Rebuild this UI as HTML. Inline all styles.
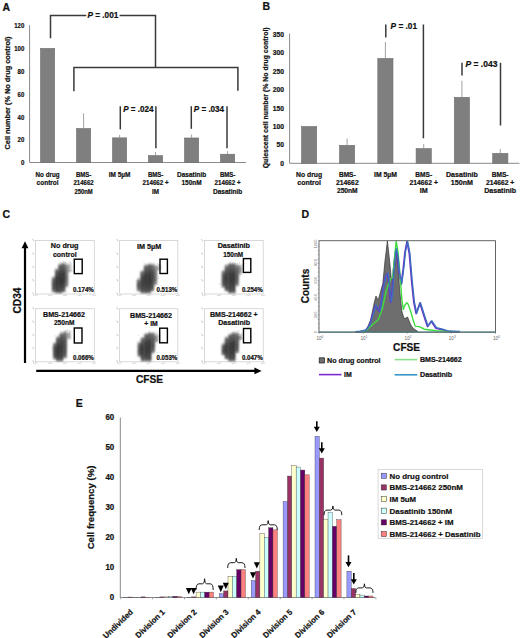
<!DOCTYPE html>
<html><head><meta charset="utf-8"><style>
html,body{margin:0;padding:0;background:#fff;}
svg{display:block;}
text{font-family:"Liberation Sans",sans-serif;}
text[font-weight="bold"]{stroke:#111;stroke-width:0.22px;}
</style></head><body>
<svg width="520" height="638" viewBox="0 0 520 638">
<rect width="520" height="638" fill="#fff"/>
<text x="2.60" y="10.60" font-size="10.5" font-weight="bold" text-anchor="start" fill="#111">A</text>
<text x="262.60" y="10.30" font-size="10.5" font-weight="bold" text-anchor="start" fill="#111">B</text>
<text x="2.40" y="217.60" font-size="10.5" font-weight="bold" text-anchor="start" fill="#111">C</text>
<text x="301.40" y="218.00" font-size="10.5" font-weight="bold" text-anchor="start" fill="#111">D</text>
<text x="75.80" y="406.70" font-size="10.5" font-weight="bold" text-anchor="start" fill="#111">E</text>
<line x1="29.60" y1="25.20" x2="29.60" y2="162.50" stroke="#8a8a8a" stroke-width="1"/>
<line x1="29.60" y1="162.50" x2="246.00" y2="162.50" stroke="#8a8a8a" stroke-width="1"/>
<text x="24.30" y="165.30" font-size="7.2" font-weight="bold" text-anchor="end" fill="#111" textLength="3.4" lengthAdjust="spacingAndGlyphs">0</text>
<text x="24.30" y="142.42" font-size="7.2" font-weight="bold" text-anchor="end" fill="#111" textLength="6.7" lengthAdjust="spacingAndGlyphs">20</text>
<text x="24.30" y="119.54" font-size="7.2" font-weight="bold" text-anchor="end" fill="#111" textLength="6.7" lengthAdjust="spacingAndGlyphs">40</text>
<text x="24.30" y="96.66" font-size="7.2" font-weight="bold" text-anchor="end" fill="#111" textLength="6.7" lengthAdjust="spacingAndGlyphs">60</text>
<text x="24.30" y="73.78" font-size="7.2" font-weight="bold" text-anchor="end" fill="#111" textLength="6.7" lengthAdjust="spacingAndGlyphs">80</text>
<text x="24.30" y="50.90" font-size="7.2" font-weight="bold" text-anchor="end" fill="#111" textLength="10.1" lengthAdjust="spacingAndGlyphs">100</text>
<text x="24.30" y="28.02" font-size="7.2" font-weight="bold" text-anchor="end" fill="#111" textLength="10.1" lengthAdjust="spacingAndGlyphs">120</text>
<text transform="translate(10.3,93.0) rotate(-90)" x="0" y="0" font-size="7.3" font-weight="bold" text-anchor="middle" fill="#111" textLength="113" lengthAdjust="spacingAndGlyphs">Cell number (% No drug control)</text>
<rect x="40.50" y="48.40" width="14.20" height="114.10" fill="#7f7f7f" stroke="#6e6e6e" stroke-width="0.6"/>
<line x1="83.60" y1="113.31" x2="83.60" y2="128.18" stroke="#7a7a7a" stroke-width="0.7"/>
<rect x="76.50" y="128.48" width="14.20" height="34.02" fill="#7f7f7f" stroke="#6e6e6e" stroke-width="0.6"/>
<line x1="119.60" y1="135.04" x2="119.60" y2="137.56" stroke="#7a7a7a" stroke-width="0.7"/>
<rect x="112.50" y="137.86" width="14.20" height="24.64" fill="#7f7f7f" stroke="#6e6e6e" stroke-width="0.6"/>
<line x1="155.50" y1="152.20" x2="155.50" y2="155.29" stroke="#7a7a7a" stroke-width="0.7"/>
<rect x="148.40" y="155.59" width="14.20" height="6.91" fill="#7f7f7f" stroke="#6e6e6e" stroke-width="0.6"/>
<line x1="191.60" y1="134.47" x2="191.60" y2="137.68" stroke="#7a7a7a" stroke-width="0.7"/>
<rect x="184.50" y="137.98" width="14.20" height="24.52" fill="#7f7f7f" stroke="#6e6e6e" stroke-width="0.6"/>
<line x1="227.60" y1="151.06" x2="227.60" y2="153.92" stroke="#7a7a7a" stroke-width="0.7"/>
<rect x="220.50" y="154.22" width="14.20" height="8.28" fill="#7f7f7f" stroke="#6e6e6e" stroke-width="0.6"/>
<text x="47.60" y="176.78" font-size="7.2" font-weight="bold" text-anchor="middle" fill="#111" textLength="24.0" lengthAdjust="spacingAndGlyphs">No drug</text>
<text x="47.60" y="185.38" font-size="7.2" font-weight="bold" text-anchor="middle" fill="#111" textLength="22.0" lengthAdjust="spacingAndGlyphs">control</text>
<text x="83.60" y="176.78" font-size="7.2" font-weight="bold" text-anchor="middle" fill="#111" textLength="15.4" lengthAdjust="spacingAndGlyphs">BMS-</text>
<text x="83.60" y="185.38" font-size="7.2" font-weight="bold" text-anchor="middle" fill="#111" textLength="20.3" lengthAdjust="spacingAndGlyphs">214662</text>
<text x="83.60" y="193.98" font-size="7.2" font-weight="bold" text-anchor="middle" fill="#111" textLength="18.2" lengthAdjust="spacingAndGlyphs">250nM</text>
<text x="119.60" y="176.78" font-size="7.2" font-weight="bold" text-anchor="middle" fill="#111" textLength="21.6" lengthAdjust="spacingAndGlyphs">IM 5µM</text>
<text x="155.60" y="176.78" font-size="7.2" font-weight="bold" text-anchor="middle" fill="#111" textLength="15.4" lengthAdjust="spacingAndGlyphs">BMS-</text>
<text x="155.60" y="185.38" font-size="7.2" font-weight="bold" text-anchor="middle" fill="#111" textLength="26.0" lengthAdjust="spacingAndGlyphs">214662 +</text>
<text x="155.60" y="193.98" font-size="7.2" font-weight="bold" text-anchor="middle" fill="#111" textLength="7.0" lengthAdjust="spacingAndGlyphs">IM</text>
<text x="191.60" y="176.78" font-size="7.2" font-weight="bold" text-anchor="middle" fill="#111" textLength="29.3" lengthAdjust="spacingAndGlyphs">Dasatinib</text>
<text x="191.60" y="185.38" font-size="7.2" font-weight="bold" text-anchor="middle" fill="#111" textLength="20.2" lengthAdjust="spacingAndGlyphs">150nM</text>
<text x="227.60" y="176.78" font-size="7.2" font-weight="bold" text-anchor="middle" fill="#111" textLength="15.4" lengthAdjust="spacingAndGlyphs">BMS-</text>
<text x="227.60" y="185.38" font-size="7.2" font-weight="bold" text-anchor="middle" fill="#111" textLength="26.0" lengthAdjust="spacingAndGlyphs">214662 +</text>
<text x="227.60" y="193.98" font-size="7.2" font-weight="bold" text-anchor="middle" fill="#111" textLength="29.3" lengthAdjust="spacingAndGlyphs">Dasatinib</text>
<polyline points="50.50,38.20 50.50,15.40 86.30,15.40" fill="none" stroke="#3a3a3a" stroke-width="1.5"/>
<polyline points="119.60,15.40 155.50,15.40 155.50,67.60" fill="none" stroke="#3a3a3a" stroke-width="1.5"/>
<polyline points="73.90,91.20 73.90,67.60 237.90,67.60 237.90,90.80" fill="none" stroke="#3a3a3a" stroke-width="1.5"/>
<text x="87.40" y="18.20" font-size="8.4" font-weight="bold" fill="#111" textLength="31.0" lengthAdjust="spacingAndGlyphs"><tspan font-style="italic">P</tspan> = .001</text>
<line x1="120.30" y1="106.20" x2="120.30" y2="129.40" stroke="#3a3a3a" stroke-width="1.5"/>
<line x1="155.90" y1="106.20" x2="155.90" y2="148.20" stroke="#3a3a3a" stroke-width="1.5"/>
<text x="123.20" y="111.50" font-size="8.4" font-weight="bold" fill="#111" textLength="30.3" lengthAdjust="spacingAndGlyphs"><tspan font-style="italic">P</tspan> = .024</text>
<line x1="191.30" y1="106.20" x2="191.30" y2="128.80" stroke="#3a3a3a" stroke-width="1.5"/>
<line x1="227.00" y1="106.20" x2="227.00" y2="148.20" stroke="#3a3a3a" stroke-width="1.5"/>
<text x="193.80" y="111.50" font-size="8.4" font-weight="bold" fill="#111" textLength="30.3" lengthAdjust="spacingAndGlyphs"><tspan font-style="italic">P</tspan> = .034</text>
<line x1="289.60" y1="33.60" x2="289.60" y2="163.30" stroke="#8a8a8a" stroke-width="1"/>
<line x1="289.60" y1="163.30" x2="519.50" y2="163.30" stroke="#8a8a8a" stroke-width="1"/>
<text x="284.00" y="165.90" font-size="7.3" font-weight="bold" text-anchor="end" fill="#111" textLength="3.7" lengthAdjust="spacingAndGlyphs">0</text>
<text x="284.00" y="147.46" font-size="7.3" font-weight="bold" text-anchor="end" fill="#111" textLength="7.4" lengthAdjust="spacingAndGlyphs">50</text>
<text x="284.00" y="129.01" font-size="7.3" font-weight="bold" text-anchor="end" fill="#111" textLength="11.2" lengthAdjust="spacingAndGlyphs">100</text>
<text x="284.00" y="110.57" font-size="7.3" font-weight="bold" text-anchor="end" fill="#111" textLength="11.2" lengthAdjust="spacingAndGlyphs">150</text>
<text x="284.00" y="92.13" font-size="7.3" font-weight="bold" text-anchor="end" fill="#111" textLength="11.2" lengthAdjust="spacingAndGlyphs">200</text>
<text x="284.00" y="73.69" font-size="7.3" font-weight="bold" text-anchor="end" fill="#111" textLength="11.2" lengthAdjust="spacingAndGlyphs">250</text>
<text x="284.00" y="55.24" font-size="7.3" font-weight="bold" text-anchor="end" fill="#111" textLength="11.2" lengthAdjust="spacingAndGlyphs">300</text>
<text x="284.00" y="36.80" font-size="7.3" font-weight="bold" text-anchor="end" fill="#111" textLength="11.2" lengthAdjust="spacingAndGlyphs">350</text>
<text transform="translate(268.2,97.85) rotate(-90)" x="0" y="0" font-size="6.9" font-weight="bold" text-anchor="middle" fill="#111" textLength="141" lengthAdjust="spacingAndGlyphs">Quiescent cell number (% No drug control)</text>
<rect x="301.50" y="126.50" width="15.20" height="36.80" fill="#7f7f7f" stroke="#6e6e6e" stroke-width="0.6"/>
<line x1="347.10" y1="138.50" x2="347.10" y2="145.00" stroke="#7a7a7a" stroke-width="0.7"/>
<rect x="339.50" y="145.30" width="15.20" height="18.00" fill="#7f7f7f" stroke="#6e6e6e" stroke-width="0.6"/>
<line x1="385.40" y1="42.00" x2="385.40" y2="58.10" stroke="#7a7a7a" stroke-width="0.7"/>
<rect x="377.80" y="58.40" width="15.20" height="104.90" fill="#7f7f7f" stroke="#6e6e6e" stroke-width="0.6"/>
<line x1="423.70" y1="144.00" x2="423.70" y2="148.30" stroke="#7a7a7a" stroke-width="0.7"/>
<rect x="416.10" y="148.60" width="15.20" height="14.70" fill="#7f7f7f" stroke="#6e6e6e" stroke-width="0.6"/>
<line x1="461.90" y1="80.70" x2="461.90" y2="97.00" stroke="#7a7a7a" stroke-width="0.7"/>
<rect x="454.30" y="97.30" width="15.20" height="66.00" fill="#7f7f7f" stroke="#6e6e6e" stroke-width="0.6"/>
<line x1="500.30" y1="149.00" x2="500.30" y2="153.00" stroke="#7a7a7a" stroke-width="0.7"/>
<rect x="492.70" y="153.30" width="15.20" height="10.00" fill="#7f7f7f" stroke="#6e6e6e" stroke-width="0.6"/>
<text x="309.10" y="176.78" font-size="7.2" font-weight="bold" text-anchor="middle" fill="#111" textLength="26.0" lengthAdjust="spacingAndGlyphs">No drug</text>
<text x="309.10" y="185.08" font-size="7.2" font-weight="bold" text-anchor="middle" fill="#111" textLength="23.7" lengthAdjust="spacingAndGlyphs">control</text>
<text x="347.30" y="176.78" font-size="7.2" font-weight="bold" text-anchor="middle" fill="#111" textLength="16.8" lengthAdjust="spacingAndGlyphs">BMS-</text>
<text x="347.30" y="185.08" font-size="7.2" font-weight="bold" text-anchor="middle" fill="#111" textLength="22.8" lengthAdjust="spacingAndGlyphs">214662</text>
<text x="347.30" y="193.38" font-size="7.2" font-weight="bold" text-anchor="middle" fill="#111" textLength="20.7" lengthAdjust="spacingAndGlyphs">250nM</text>
<text x="385.50" y="176.78" font-size="7.2" font-weight="bold" text-anchor="middle" fill="#111" textLength="23.0" lengthAdjust="spacingAndGlyphs">IM 5µM</text>
<text x="423.70" y="176.78" font-size="7.2" font-weight="bold" text-anchor="middle" fill="#111" textLength="16.8" lengthAdjust="spacingAndGlyphs">BMS-</text>
<text x="423.70" y="185.08" font-size="7.2" font-weight="bold" text-anchor="middle" fill="#111" textLength="28.4" lengthAdjust="spacingAndGlyphs">214662 +</text>
<text x="423.70" y="193.38" font-size="7.2" font-weight="bold" text-anchor="middle" fill="#111" textLength="8.0" lengthAdjust="spacingAndGlyphs">IM</text>
<text x="461.90" y="176.78" font-size="7.2" font-weight="bold" text-anchor="middle" fill="#111" textLength="31.8" lengthAdjust="spacingAndGlyphs">Dasatinib</text>
<text x="461.90" y="185.08" font-size="7.2" font-weight="bold" text-anchor="middle" fill="#111" textLength="22.1" lengthAdjust="spacingAndGlyphs">150nM</text>
<text x="500.10" y="176.78" font-size="7.2" font-weight="bold" text-anchor="middle" fill="#111" textLength="16.8" lengthAdjust="spacingAndGlyphs">BMS-</text>
<text x="500.10" y="185.08" font-size="7.2" font-weight="bold" text-anchor="middle" fill="#111" textLength="28.4" lengthAdjust="spacingAndGlyphs">214662 +</text>
<text x="500.10" y="193.38" font-size="7.2" font-weight="bold" text-anchor="middle" fill="#111" textLength="31.8" lengthAdjust="spacingAndGlyphs">Dasatinib</text>
<line x1="385.80" y1="24.50" x2="385.80" y2="37.60" stroke="#3a3a3a" stroke-width="1.5"/>
<line x1="423.40" y1="24.50" x2="423.40" y2="138.30" stroke="#3a3a3a" stroke-width="1.5"/>
<text x="390.60" y="29.30" font-size="8.4" font-weight="bold" fill="#111" textLength="26.5" lengthAdjust="spacingAndGlyphs"><tspan font-style="italic">P</tspan> = .01</text>
<line x1="462.00" y1="62.80" x2="462.00" y2="75.60" stroke="#3a3a3a" stroke-width="1.5"/>
<line x1="500.50" y1="62.80" x2="500.50" y2="125.50" stroke="#3a3a3a" stroke-width="1.5"/>
<text x="465.50" y="67.00" font-size="8.4" font-weight="bold" fill="#111" textLength="31.9" lengthAdjust="spacingAndGlyphs"><tspan font-style="italic">P</tspan> = .043</text>
<line x1="25.00" y1="247.00" x2="25.00" y2="363.00" stroke="#000" stroke-width="2.2"/>
<polygon points="25,241.2 21.6,248.2 28.4,248.2" fill="#000"/>
<line x1="36.20" y1="370.90" x2="255.50" y2="370.90" stroke="#000" stroke-width="2.2"/>
<polygon points="261.6,370.9 254.4,367.5 254.4,374.3" fill="#000"/>
<text transform="translate(21.3,300.5) rotate(-90)" font-size="10" font-weight="bold" text-anchor="middle" fill="#111" textLength="26" lengthAdjust="spacingAndGlyphs">CD34</text>
<text x="149.50" y="383.08" font-size="10" font-weight="bold" text-anchor="middle" fill="#111" textLength="27.2" lengthAdjust="spacingAndGlyphs">CFSE</text>
<defs><filter id="bl" x="-50%" y="-50%" width="200%" height="200%"><feGaussianBlur stdDeviation="1.1"/></filter><filter id="bl2" x="-50%" y="-50%" width="200%" height="200%"><feGaussianBlur stdDeviation="0.85"/></filter><linearGradient id="sg" x1="0" y1="0" x2="0" y2="1"><stop offset="0" stop-color="#3a3a3a" stop-opacity="0.55"/><stop offset="0.35" stop-color="#222" stop-opacity="0.9"/><stop offset="1" stop-color="#1a1a1a" stop-opacity="1"/></linearGradient></defs>
<rect x="35.50" y="240.50" width="58.80" height="53.50" fill="none" stroke="#cfcfcf" stroke-width="0.8"/>
<path d="M32.3 239.3l1.6 1.2l-0.6 0.8" stroke="#aaa" stroke-width="0.7" fill="none"/>
<path d="M32.3 252.7l1.6 1.2l-0.6 0.8" stroke="#aaa" stroke-width="0.7" fill="none"/>
<path d="M32.3 266.1l1.6 1.2l-0.6 0.8" stroke="#aaa" stroke-width="0.7" fill="none"/>
<path d="M32.3 279.4l1.6 1.2l-0.6 0.8" stroke="#aaa" stroke-width="0.7" fill="none"/>
<path d="M32.3 292.8l1.6 1.2l-0.6 0.8" stroke="#aaa" stroke-width="0.7" fill="none"/>
<path d="M33.5 295.2q1 1.2 2 0.2q1 -1 2 0" stroke="#bbb" stroke-width="0.7" fill="none"/>
<path d="M48.2 295.2q1 1.2 2 0.2q1 -1 2 0" stroke="#bbb" stroke-width="0.7" fill="none"/>
<path d="M62.9 295.2q1 1.2 2 0.2q1 -1 2 0" stroke="#bbb" stroke-width="0.7" fill="none"/>
<path d="M77.6 295.2q1 1.2 2 0.2q1 -1 2 0" stroke="#bbb" stroke-width="0.7" fill="none"/>
<path d="M92.3 295.2q1 1.2 2 0.2q1 -1 2 0" stroke="#bbb" stroke-width="0.7" fill="none"/>
<g filter="url(#bl)"><rect x="51.9" y="277.5" width="3.6" height="14.5" fill="#484848" opacity="0.60"/><rect x="55.1" y="269.5" width="3.6" height="23.5" fill="#484848" opacity="0.76"/><rect x="58.4" y="264.5" width="3.6" height="28.5" fill="#484848" opacity="0.76"/><rect x="61.6" y="263.5" width="3.6" height="28.5" fill="#484848" opacity="0.72"/><rect x="64.6" y="264.5" width="3.6" height="22.5" fill="#484848" opacity="0.44"/><rect x="67.6" y="264.5" width="3.6" height="7.5" fill="#484848" opacity="0.20"/></g><g filter="url(#bl2)"><ellipse cx="53.8" cy="284.0" rx="1.3" ry="8.0" fill="url(#sg)" opacity="0.75"/><ellipse cx="57.0" cy="280.5" rx="1.3" ry="12.5" fill="url(#sg)" opacity="0.95"/><ellipse cx="60.3" cy="278.0" rx="1.3" ry="15.0" fill="url(#sg)" opacity="0.95"/><ellipse cx="63.5" cy="277.0" rx="1.3" ry="15.0" fill="url(#sg)" opacity="0.90"/><ellipse cx="66.5" cy="275.0" rx="1.3" ry="12.0" fill="url(#sg)" opacity="0.55"/><ellipse cx="69.5" cy="267.5" rx="1.3" ry="4.5" fill="url(#sg)" opacity="0.25"/></g>
<path d="M62.4 262.5h.7v.7h-.7zM65.8 263.4h.7v.7h-.7zM68.9 262.0h.7v.7h-.7zM64.4 273.4h.7v.7h-.7zM58.9 288.3h.7v.7h-.7zM55.0 291.1h.7v.7h-.7zM65.8 267.3h.7v.7h-.7zM59.7 261.6h.7v.7h-.7zM61.2 273.8h.7v.7h-.7zM58.3 280.6h.7v.7h-.7zM65.0 265.7h.7v.7h-.7zM70.3 275.9h.7v.7h-.7zM55.1 267.7h.7v.7h-.7zM55.8 285.1h.7v.7h-.7zM62.5 270.1h.7v.7h-.7zM64.4 285.0h.7v.7h-.7zM59.1 283.4h.7v.7h-.7zM60.7 268.2h.7v.7h-.7zM55.9 284.3h.7v.7h-.7zM59.6 280.5h.7v.7h-.7zM55.5 287.6h.7v.7h-.7zM58.5 291.2h.7v.7h-.7zM66.7 284.5h.7v.7h-.7zM67.3 281.5h.7v.7h-.7zM59.2 276.9h.7v.7h-.7zM65.2 262.2h.7v.7h-.7zM56.1 286.0h.7v.7h-.7zM53.0 287.2h.7v.7h-.7zM56.1 287.3h.7v.7h-.7zM54.8 283.9h.7v.7h-.7zM66.5 264.9h.7v.7h-.7zM70.8 264.0h.7v.7h-.7zM54.2 287.3h.7v.7h-.7zM65.3 272.5h.7v.7h-.7zM65.6 277.6h.7v.7h-.7zM58.2 288.1h.7v.7h-.7zM66.1 270.3h.7v.7h-.7zM65.7 290.6h.7v.7h-.7zM58.1 283.8h.7v.7h-.7zM54.4 282.7h.7v.7h-.7zM67.2 264.8h.7v.7h-.7zM68.1 270.6h.7v.7h-.7zM66.0 283.3h.7v.7h-.7zM67.5 278.0h.7v.7h-.7zM73.9 269.6h.7v.7h-.7zM71.1 269.8h.7v.7h-.7zM61.7 275.4h.7v.7h-.7zM64.8 262.0h.7v.7h-.7zM56.2 276.0h.7v.7h-.7zM66.3 262.4h.7v.7h-.7zM51.3 291.1h.7v.7h-.7zM65.4 261.7h.7v.7h-.7zM56.1 272.8h.7v.7h-.7zM59.5 280.3h.7v.7h-.7zM66.6 291.8h.7v.7h-.7zM66.5 275.4h.7v.7h-.7zM61.2 272.0h.7v.7h-.7zM60.8 276.3h.7v.7h-.7zM69.8 271.5h.7v.7h-.7zM66.9 270.4h.7v.7h-.7zM69.0 266.8h.7v.7h-.7zM69.4 270.5h.7v.7h-.7zM71.0 271.0h.7v.7h-.7zM58.1 285.7h.7v.7h-.7zM64.0 277.5h.7v.7h-.7zM65.8 282.1h.7v.7h-.7zM58.4 286.0h.7v.7h-.7zM53.2 271.4h.7v.7h-.7zM63.2 260.9h.7v.7h-.7zM60.7 276.1h.7v.7h-.7zM55.1 278.1h.7v.7h-.7zM64.3 271.9h.7v.7h-.7zM61.2 276.0h.7v.7h-.7zM60.8 267.5h.7v.7h-.7zM69.5 261.0h.7v.7h-.7zM69.2 264.8h.7v.7h-.7zM72.3 271.0h.7v.7h-.7zM71.1 269.3h.7v.7h-.7zM65.3 280.3h.7v.7h-.7zM52.3 288.4h.7v.7h-.7zM67.7 271.4h.7v.7h-.7zM70.9 262.7h.7v.7h-.7zM59.9 278.6h.7v.7h-.7zM70.0 262.6h.7v.7h-.7zM69.7 270.1h.7v.7h-.7zM66.1 275.3h.7v.7h-.7zM59.6 285.7h.7v.7h-.7zM67.0 280.5h.7v.7h-.7zM52.9 288.3h.7v.7h-.7zM58.8 266.8h.7v.7h-.7z" fill="#555" opacity="0.3"/>
<rect x="74.30" y="259.20" width="7.90" height="14.40" fill="none" stroke="#000" stroke-width="1.4"/>
<text x="64.65" y="248.41" font-size="7.3" font-weight="bold" text-anchor="middle" fill="#111" textLength="27.7" lengthAdjust="spacingAndGlyphs">No drug</text>
<text x="64.80" y="256.91" font-size="7.3" font-weight="bold" text-anchor="middle" fill="#111" textLength="23.6" lengthAdjust="spacingAndGlyphs">control</text>
<text x="93.80" y="292.40" font-size="6.6" font-weight="bold" text-anchor="end" fill="#111" textLength="20.8" lengthAdjust="spacingAndGlyphs">0.174%</text>
<rect x="119.60" y="240.50" width="58.20" height="53.50" fill="none" stroke="#cfcfcf" stroke-width="0.8"/>
<path d="M116.4 239.3l1.6 1.2l-0.6 0.8" stroke="#aaa" stroke-width="0.7" fill="none"/>
<path d="M116.4 252.7l1.6 1.2l-0.6 0.8" stroke="#aaa" stroke-width="0.7" fill="none"/>
<path d="M116.4 266.1l1.6 1.2l-0.6 0.8" stroke="#aaa" stroke-width="0.7" fill="none"/>
<path d="M116.4 279.4l1.6 1.2l-0.6 0.8" stroke="#aaa" stroke-width="0.7" fill="none"/>
<path d="M116.4 292.8l1.6 1.2l-0.6 0.8" stroke="#aaa" stroke-width="0.7" fill="none"/>
<path d="M117.6 295.2q1 1.2 2 0.2q1 -1 2 0" stroke="#bbb" stroke-width="0.7" fill="none"/>
<path d="M132.2 295.2q1 1.2 2 0.2q1 -1 2 0" stroke="#bbb" stroke-width="0.7" fill="none"/>
<path d="M146.7 295.2q1 1.2 2 0.2q1 -1 2 0" stroke="#bbb" stroke-width="0.7" fill="none"/>
<path d="M161.2 295.2q1 1.2 2 0.2q1 -1 2 0" stroke="#bbb" stroke-width="0.7" fill="none"/>
<path d="M175.8 295.2q1 1.2 2 0.2q1 -1 2 0" stroke="#bbb" stroke-width="0.7" fill="none"/>
<g filter="url(#bl)"><rect x="136.9" y="279.5" width="3.6" height="11.5" fill="#484848" opacity="0.56"/><rect x="140.4" y="271.5" width="3.6" height="21.5" fill="#484848" opacity="0.72"/><rect x="143.9" y="265.5" width="3.6" height="27.5" fill="#484848" opacity="0.76"/><rect x="147.3" y="264.5" width="3.6" height="28.5" fill="#484848" opacity="0.76"/><rect x="150.4" y="264.5" width="3.6" height="26.5" fill="#484848" opacity="0.64"/><rect x="153.5" y="265.5" width="3.6" height="19.5" fill="#484848" opacity="0.44"/><rect x="156.6" y="266.5" width="3.6" height="3.5" fill="#484848" opacity="0.24"/></g><g filter="url(#bl2)"><ellipse cx="138.8" cy="284.5" rx="1.3" ry="6.5" fill="url(#sg)" opacity="0.70"/><ellipse cx="142.3" cy="281.5" rx="1.3" ry="11.5" fill="url(#sg)" opacity="0.90"/><ellipse cx="145.8" cy="278.5" rx="1.3" ry="14.5" fill="url(#sg)" opacity="0.95"/><ellipse cx="149.2" cy="278.0" rx="1.3" ry="15.0" fill="url(#sg)" opacity="0.95"/><ellipse cx="152.3" cy="277.0" rx="1.3" ry="14.0" fill="url(#sg)" opacity="0.80"/><ellipse cx="155.4" cy="274.5" rx="1.3" ry="10.5" fill="url(#sg)" opacity="0.55"/><ellipse cx="158.5" cy="267.5" rx="1.3" ry="2.5" fill="url(#sg)" opacity="0.30"/></g>
<path d="M141.9 282.7h.7v.7h-.7zM147.4 278.9h.7v.7h-.7zM161.8 265.5h.7v.7h-.7zM152.7 282.2h.7v.7h-.7zM160.4 269.4h.7v.7h-.7zM151.0 264.9h.7v.7h-.7zM141.9 279.0h.7v.7h-.7zM142.2 283.2h.7v.7h-.7zM158.9 266.3h.7v.7h-.7zM154.1 264.8h.7v.7h-.7zM137.6 284.3h.7v.7h-.7zM160.9 268.4h.7v.7h-.7zM153.6 262.3h.7v.7h-.7zM139.3 283.6h.7v.7h-.7zM156.9 262.9h.7v.7h-.7zM146.6 281.0h.7v.7h-.7zM151.1 269.3h.7v.7h-.7zM151.4 277.0h.7v.7h-.7zM147.5 277.7h.7v.7h-.7zM145.7 290.6h.7v.7h-.7zM142.9 271.0h.7v.7h-.7zM148.2 271.1h.7v.7h-.7zM155.5 277.4h.7v.7h-.7zM159.4 263.9h.7v.7h-.7zM160.5 267.6h.7v.7h-.7zM145.2 274.3h.7v.7h-.7zM143.8 291.8h.7v.7h-.7zM148.9 289.3h.7v.7h-.7zM146.5 272.0h.7v.7h-.7zM148.9 292.8h.7v.7h-.7zM148.4 271.2h.7v.7h-.7zM156.6 270.4h.7v.7h-.7zM143.6 262.6h.7v.7h-.7zM145.0 278.0h.7v.7h-.7zM145.0 292.5h.7v.7h-.7zM158.4 264.6h.7v.7h-.7zM140.3 289.6h.7v.7h-.7zM143.2 274.8h.7v.7h-.7zM144.1 284.9h.7v.7h-.7zM141.9 274.6h.7v.7h-.7zM154.8 282.0h.7v.7h-.7zM137.4 280.2h.7v.7h-.7zM157.6 263.5h.7v.7h-.7zM136.7 285.5h.7v.7h-.7zM158.3 264.6h.7v.7h-.7zM148.8 288.7h.7v.7h-.7zM156.3 274.4h.7v.7h-.7zM146.3 281.3h.7v.7h-.7zM137.2 277.6h.7v.7h-.7zM142.0 274.5h.7v.7h-.7zM142.9 275.6h.7v.7h-.7zM160.3 264.4h.7v.7h-.7zM147.8 272.1h.7v.7h-.7zM138.8 290.9h.7v.7h-.7zM142.4 284.3h.7v.7h-.7zM142.6 280.9h.7v.7h-.7zM143.3 288.5h.7v.7h-.7zM148.8 282.0h.7v.7h-.7zM153.4 276.2h.7v.7h-.7zM153.5 266.9h.7v.7h-.7zM140.0 285.7h.7v.7h-.7zM158.9 265.2h.7v.7h-.7zM150.0 262.4h.7v.7h-.7zM154.9 279.0h.7v.7h-.7zM145.1 282.6h.7v.7h-.7zM149.5 288.9h.7v.7h-.7zM158.3 277.9h.7v.7h-.7zM138.3 282.9h.7v.7h-.7zM142.3 277.1h.7v.7h-.7zM146.0 292.2h.7v.7h-.7zM152.0 287.5h.7v.7h-.7zM142.8 276.9h.7v.7h-.7zM138.3 280.2h.7v.7h-.7zM156.2 266.6h.7v.7h-.7zM152.5 285.5h.7v.7h-.7zM141.4 278.0h.7v.7h-.7zM137.3 285.4h.7v.7h-.7zM139.9 284.8h.7v.7h-.7zM153.1 287.8h.7v.7h-.7zM157.5 269.2h.7v.7h-.7zM149.5 276.8h.7v.7h-.7zM142.3 284.4h.7v.7h-.7zM157.9 278.4h.7v.7h-.7zM155.5 279.8h.7v.7h-.7zM154.6 282.9h.7v.7h-.7zM156.0 266.5h.7v.7h-.7zM158.7 267.8h.7v.7h-.7zM158.1 269.2h.7v.7h-.7zM158.4 264.0h.7v.7h-.7zM137.9 278.0h.7v.7h-.7z" fill="#555" opacity="0.3"/>
<rect x="160.00" y="259.20" width="7.40" height="14.30" fill="none" stroke="#000" stroke-width="1.4"/>
<text x="149.10" y="248.81" font-size="7.3" font-weight="bold" text-anchor="middle" fill="#111" textLength="24.2" lengthAdjust="spacingAndGlyphs">IM 5µM</text>
<text x="177.30" y="292.40" font-size="6.6" font-weight="bold" text-anchor="end" fill="#111" textLength="20.8" lengthAdjust="spacingAndGlyphs">0.513%</text>
<rect x="204.40" y="240.50" width="58.80" height="53.50" fill="none" stroke="#cfcfcf" stroke-width="0.8"/>
<path d="M201.2 239.3l1.6 1.2l-0.6 0.8" stroke="#aaa" stroke-width="0.7" fill="none"/>
<path d="M201.2 252.7l1.6 1.2l-0.6 0.8" stroke="#aaa" stroke-width="0.7" fill="none"/>
<path d="M201.2 266.1l1.6 1.2l-0.6 0.8" stroke="#aaa" stroke-width="0.7" fill="none"/>
<path d="M201.2 279.4l1.6 1.2l-0.6 0.8" stroke="#aaa" stroke-width="0.7" fill="none"/>
<path d="M201.2 292.8l1.6 1.2l-0.6 0.8" stroke="#aaa" stroke-width="0.7" fill="none"/>
<path d="M202.4 295.2q1 1.2 2 0.2q1 -1 2 0" stroke="#bbb" stroke-width="0.7" fill="none"/>
<path d="M217.1 295.2q1 1.2 2 0.2q1 -1 2 0" stroke="#bbb" stroke-width="0.7" fill="none"/>
<path d="M231.8 295.2q1 1.2 2 0.2q1 -1 2 0" stroke="#bbb" stroke-width="0.7" fill="none"/>
<path d="M246.5 295.2q1 1.2 2 0.2q1 -1 2 0" stroke="#bbb" stroke-width="0.7" fill="none"/>
<path d="M261.2 295.2q1 1.2 2 0.2q1 -1 2 0" stroke="#bbb" stroke-width="0.7" fill="none"/>
<g filter="url(#bl)"><rect x="221.7" y="271.1" width="3.6" height="16.2" fill="#484848" opacity="0.60"/><rect x="224.8" y="265.7" width="3.6" height="25.3" fill="#484848" opacity="0.72"/><rect x="228.3" y="263.8" width="3.6" height="29.2" fill="#484848" opacity="0.76"/><rect x="231.7" y="263.8" width="3.6" height="29.2" fill="#484848" opacity="0.76"/><rect x="235.1" y="265.0" width="3.6" height="20.8" fill="#484848" opacity="0.56"/><rect x="238.3" y="265.7" width="3.6" height="8.5" fill="#484848" opacity="0.32"/></g><g filter="url(#bl2)"><ellipse cx="223.6" cy="278.5" rx="1.3" ry="8.8" fill="url(#sg)" opacity="0.75"/><ellipse cx="226.7" cy="277.6" rx="1.3" ry="13.4" fill="url(#sg)" opacity="0.90"/><ellipse cx="230.2" cy="277.6" rx="1.3" ry="15.3" fill="url(#sg)" opacity="0.95"/><ellipse cx="233.6" cy="277.6" rx="1.3" ry="15.3" fill="url(#sg)" opacity="0.95"/><ellipse cx="237.0" cy="274.6" rx="1.3" ry="11.2" fill="url(#sg)" opacity="0.70"/><ellipse cx="240.2" cy="269.2" rx="1.3" ry="5.0" fill="url(#sg)" opacity="0.40"/></g>
<path d="M232.3 275.1h.7v.7h-.7zM223.1 280.0h.7v.7h-.7zM238.6 265.4h.7v.7h-.7zM233.3 286.4h.7v.7h-.7zM244.5 263.3h.7v.7h-.7zM235.1 263.1h.7v.7h-.7zM236.2 272.4h.7v.7h-.7zM227.4 283.2h.7v.7h-.7zM227.1 275.5h.7v.7h-.7zM236.8 262.8h.7v.7h-.7zM240.0 269.8h.7v.7h-.7zM227.4 264.4h.7v.7h-.7zM225.1 282.2h.7v.7h-.7zM239.8 275.3h.7v.7h-.7zM221.1 286.8h.7v.7h-.7zM223.9 281.2h.7v.7h-.7zM236.8 265.6h.7v.7h-.7zM233.8 275.5h.7v.7h-.7zM226.4 273.7h.7v.7h-.7zM223.5 286.0h.7v.7h-.7zM223.4 277.6h.7v.7h-.7zM234.5 292.8h.7v.7h-.7zM234.9 267.2h.7v.7h-.7zM242.1 263.7h.7v.7h-.7zM234.8 263.8h.7v.7h-.7zM239.4 268.3h.7v.7h-.7zM223.1 285.3h.7v.7h-.7zM232.1 273.2h.7v.7h-.7zM229.3 275.2h.7v.7h-.7zM230.3 284.1h.7v.7h-.7zM232.5 287.8h.7v.7h-.7zM225.2 274.0h.7v.7h-.7zM230.8 290.6h.7v.7h-.7zM239.3 262.3h.7v.7h-.7zM239.7 266.9h.7v.7h-.7zM239.1 263.4h.7v.7h-.7zM233.8 269.5h.7v.7h-.7zM219.3 284.0h.7v.7h-.7zM229.4 292.1h.7v.7h-.7zM232.7 277.0h.7v.7h-.7zM227.3 274.5h.7v.7h-.7zM219.8 283.6h.7v.7h-.7zM236.6 268.8h.7v.7h-.7zM229.3 282.9h.7v.7h-.7zM225.7 279.7h.7v.7h-.7zM225.8 280.8h.7v.7h-.7zM225.4 278.3h.7v.7h-.7zM227.1 275.8h.7v.7h-.7zM229.9 284.5h.7v.7h-.7zM241.9 265.3h.7v.7h-.7zM240.4 270.2h.7v.7h-.7zM226.1 270.9h.7v.7h-.7zM229.0 285.6h.7v.7h-.7zM238.2 266.8h.7v.7h-.7zM232.6 264.9h.7v.7h-.7zM226.6 269.2h.7v.7h-.7zM226.2 269.1h.7v.7h-.7zM231.0 286.8h.7v.7h-.7zM229.5 274.1h.7v.7h-.7zM231.2 284.7h.7v.7h-.7zM225.3 264.0h.7v.7h-.7zM231.6 279.1h.7v.7h-.7zM232.0 280.9h.7v.7h-.7zM228.6 264.9h.7v.7h-.7zM224.3 274.6h.7v.7h-.7zM232.3 288.1h.7v.7h-.7zM225.2 282.6h.7v.7h-.7zM235.3 292.0h.7v.7h-.7zM235.8 290.6h.7v.7h-.7zM237.0 282.3h.7v.7h-.7zM233.6 265.3h.7v.7h-.7zM238.1 285.1h.7v.7h-.7zM226.9 280.4h.7v.7h-.7zM232.3 263.1h.7v.7h-.7zM224.7 278.8h.7v.7h-.7zM223.6 280.3h.7v.7h-.7zM233.2 277.6h.7v.7h-.7zM232.9 283.1h.7v.7h-.7zM225.1 286.2h.7v.7h-.7zM227.8 273.4h.7v.7h-.7zM226.7 277.7h.7v.7h-.7zM233.5 269.4h.7v.7h-.7zM227.4 275.8h.7v.7h-.7zM223.1 278.0h.7v.7h-.7zM226.9 273.7h.7v.7h-.7zM222.8 271.4h.7v.7h-.7zM239.7 264.9h.7v.7h-.7zM232.9 290.6h.7v.7h-.7zM223.3 282.9h.7v.7h-.7zM230.4 282.6h.7v.7h-.7z" fill="#555" opacity="0.3"/>
<rect x="243.40" y="258.60" width="7.40" height="13.80" fill="none" stroke="#000" stroke-width="1.4"/>
<text x="233.85" y="248.01" font-size="7.3" font-weight="bold" text-anchor="middle" fill="#111" textLength="32.3" lengthAdjust="spacingAndGlyphs">Dasatinib</text>
<text x="233.20" y="256.91" font-size="7.3" font-weight="bold" text-anchor="middle" fill="#111" textLength="20.0" lengthAdjust="spacingAndGlyphs">150nM</text>
<text x="262.70" y="292.40" font-size="6.6" font-weight="bold" text-anchor="end" fill="#111" textLength="20.8" lengthAdjust="spacingAndGlyphs">0.254%</text>
<rect x="35.50" y="308.70" width="58.80" height="53.10" fill="none" stroke="#cfcfcf" stroke-width="0.8"/>
<path d="M32.3 307.5l1.6 1.2l-0.6 0.8" stroke="#aaa" stroke-width="0.7" fill="none"/>
<path d="M32.3 320.8l1.6 1.2l-0.6 0.8" stroke="#aaa" stroke-width="0.7" fill="none"/>
<path d="M32.3 334.1l1.6 1.2l-0.6 0.8" stroke="#aaa" stroke-width="0.7" fill="none"/>
<path d="M32.3 347.3l1.6 1.2l-0.6 0.8" stroke="#aaa" stroke-width="0.7" fill="none"/>
<path d="M32.3 360.6l1.6 1.2l-0.6 0.8" stroke="#aaa" stroke-width="0.7" fill="none"/>
<path d="M33.5 363.0q1 1.2 2 0.2q1 -1 2 0" stroke="#bbb" stroke-width="0.7" fill="none"/>
<path d="M48.2 363.0q1 1.2 2 0.2q1 -1 2 0" stroke="#bbb" stroke-width="0.7" fill="none"/>
<path d="M62.9 363.0q1 1.2 2 0.2q1 -1 2 0" stroke="#bbb" stroke-width="0.7" fill="none"/>
<path d="M77.6 363.0q1 1.2 2 0.2q1 -1 2 0" stroke="#bbb" stroke-width="0.7" fill="none"/>
<path d="M92.3 363.0q1 1.2 2 0.2q1 -1 2 0" stroke="#bbb" stroke-width="0.7" fill="none"/>
<g filter="url(#bl)"><rect x="53.1" y="343.5" width="3.6" height="15.5" fill="#484848" opacity="0.64"/><rect x="56.2" y="337.3" width="3.6" height="23.7" fill="#484848" opacity="0.76"/><rect x="59.6" y="333.5" width="3.6" height="27.5" fill="#484848" opacity="0.76"/><rect x="63.1" y="332.0" width="3.6" height="26.0" fill="#484848" opacity="0.64"/><rect x="66.9" y="332.7" width="3.6" height="6.3" fill="#484848" opacity="0.28"/></g><g filter="url(#bl2)"><ellipse cx="55.0" cy="350.5" rx="1.3" ry="8.5" fill="url(#sg)" opacity="0.80"/><ellipse cx="58.1" cy="348.4" rx="1.3" ry="12.6" fill="url(#sg)" opacity="0.95"/><ellipse cx="61.5" cy="346.5" rx="1.3" ry="14.5" fill="url(#sg)" opacity="0.95"/><ellipse cx="65.0" cy="344.2" rx="1.3" ry="13.8" fill="url(#sg)" opacity="0.80"/><ellipse cx="68.8" cy="335.1" rx="1.3" ry="3.9" fill="url(#sg)" opacity="0.35"/></g>
<path d="M59.9 356.8h.7v.7h-.7zM55.1 343.9h.7v.7h-.7zM56.6 340.1h.7v.7h-.7zM61.9 341.0h.7v.7h-.7zM63.9 348.9h.7v.7h-.7zM60.0 347.0h.7v.7h-.7zM56.2 347.5h.7v.7h-.7zM57.7 334.4h.7v.7h-.7zM69.3 329.8h.7v.7h-.7zM65.6 341.8h.7v.7h-.7zM60.7 358.9h.7v.7h-.7zM53.9 335.9h.7v.7h-.7zM68.8 335.7h.7v.7h-.7zM64.4 353.3h.7v.7h-.7zM60.5 332.4h.7v.7h-.7zM55.4 346.7h.7v.7h-.7zM51.6 347.2h.7v.7h-.7zM60.1 355.5h.7v.7h-.7zM67.9 334.3h.7v.7h-.7zM70.6 338.2h.7v.7h-.7zM56.5 346.7h.7v.7h-.7zM68.2 335.8h.7v.7h-.7zM65.6 330.3h.7v.7h-.7zM55.1 344.9h.7v.7h-.7zM56.6 345.2h.7v.7h-.7zM67.6 329.6h.7v.7h-.7zM63.1 352.4h.7v.7h-.7zM68.0 338.2h.7v.7h-.7zM56.6 349.0h.7v.7h-.7zM65.2 356.6h.7v.7h-.7zM66.2 352.5h.7v.7h-.7zM53.4 359.0h.7v.7h-.7zM63.2 342.1h.7v.7h-.7zM58.4 350.3h.7v.7h-.7zM63.1 354.3h.7v.7h-.7zM66.9 330.0h.7v.7h-.7zM57.1 344.9h.7v.7h-.7zM55.8 349.2h.7v.7h-.7zM66.0 337.9h.7v.7h-.7zM60.5 345.0h.7v.7h-.7zM55.6 358.8h.7v.7h-.7zM67.2 333.6h.7v.7h-.7zM55.4 352.1h.7v.7h-.7zM70.3 337.5h.7v.7h-.7zM55.3 345.3h.7v.7h-.7zM59.7 341.6h.7v.7h-.7zM62.0 337.6h.7v.7h-.7zM59.7 341.5h.7v.7h-.7zM69.1 331.7h.7v.7h-.7zM58.8 347.6h.7v.7h-.7zM57.5 346.4h.7v.7h-.7zM54.2 341.9h.7v.7h-.7zM66.2 341.7h.7v.7h-.7zM60.4 331.3h.7v.7h-.7zM61.6 348.6h.7v.7h-.7zM69.5 331.1h.7v.7h-.7zM51.9 348.5h.7v.7h-.7zM64.7 354.0h.7v.7h-.7zM57.3 351.8h.7v.7h-.7zM59.9 334.8h.7v.7h-.7zM62.4 337.9h.7v.7h-.7zM70.0 336.4h.7v.7h-.7zM59.7 344.9h.7v.7h-.7zM57.8 335.7h.7v.7h-.7zM62.0 345.4h.7v.7h-.7zM65.3 330.4h.7v.7h-.7zM55.9 342.9h.7v.7h-.7zM65.7 330.1h.7v.7h-.7zM56.7 360.7h.7v.7h-.7zM62.5 343.0h.7v.7h-.7zM53.9 346.8h.7v.7h-.7zM67.6 329.0h.7v.7h-.7zM60.2 342.6h.7v.7h-.7zM53.3 348.2h.7v.7h-.7zM54.5 344.8h.7v.7h-.7zM63.4 344.3h.7v.7h-.7zM58.6 337.7h.7v.7h-.7zM65.5 331.1h.7v.7h-.7zM72.0 330.9h.7v.7h-.7zM59.9 338.8h.7v.7h-.7zM69.2 333.0h.7v.7h-.7zM58.8 342.0h.7v.7h-.7zM57.5 341.0h.7v.7h-.7zM64.6 331.0h.7v.7h-.7zM67.0 335.5h.7v.7h-.7zM53.8 350.7h.7v.7h-.7zM71.2 331.0h.7v.7h-.7zM54.7 334.9h.7v.7h-.7zM70.0 330.7h.7v.7h-.7zM59.8 334.9h.7v.7h-.7z" fill="#555" opacity="0.3"/>
<rect x="74.30" y="328.00" width="7.70" height="15.00" fill="none" stroke="#000" stroke-width="1.4"/>
<text x="64.00" y="316.91" font-size="7.3" font-weight="bold" text-anchor="middle" fill="#111" textLength="42.0" lengthAdjust="spacingAndGlyphs">BMS-214662</text>
<text x="64.20" y="325.11" font-size="7.3" font-weight="bold" text-anchor="middle" fill="#111" textLength="20.5" lengthAdjust="spacingAndGlyphs">250nM</text>
<text x="93.80" y="360.40" font-size="6.6" font-weight="bold" text-anchor="end" fill="#111" textLength="20.8" lengthAdjust="spacingAndGlyphs">0.066%</text>
<rect x="119.60" y="308.70" width="58.20" height="53.10" fill="none" stroke="#cfcfcf" stroke-width="0.8"/>
<path d="M116.4 307.5l1.6 1.2l-0.6 0.8" stroke="#aaa" stroke-width="0.7" fill="none"/>
<path d="M116.4 320.8l1.6 1.2l-0.6 0.8" stroke="#aaa" stroke-width="0.7" fill="none"/>
<path d="M116.4 334.1l1.6 1.2l-0.6 0.8" stroke="#aaa" stroke-width="0.7" fill="none"/>
<path d="M116.4 347.3l1.6 1.2l-0.6 0.8" stroke="#aaa" stroke-width="0.7" fill="none"/>
<path d="M116.4 360.6l1.6 1.2l-0.6 0.8" stroke="#aaa" stroke-width="0.7" fill="none"/>
<path d="M117.6 363.0q1 1.2 2 0.2q1 -1 2 0" stroke="#bbb" stroke-width="0.7" fill="none"/>
<path d="M132.2 363.0q1 1.2 2 0.2q1 -1 2 0" stroke="#bbb" stroke-width="0.7" fill="none"/>
<path d="M146.7 363.0q1 1.2 2 0.2q1 -1 2 0" stroke="#bbb" stroke-width="0.7" fill="none"/>
<path d="M161.2 363.0q1 1.2 2 0.2q1 -1 2 0" stroke="#bbb" stroke-width="0.7" fill="none"/>
<path d="M175.8 363.0q1 1.2 2 0.2q1 -1 2 0" stroke="#bbb" stroke-width="0.7" fill="none"/>
<g filter="url(#bl)"><rect x="137.7" y="342.7" width="3.6" height="13.9" fill="#484848" opacity="0.60"/><rect x="140.8" y="338.1" width="3.6" height="22.9" fill="#484848" opacity="0.72"/><rect x="144.3" y="334.3" width="3.6" height="26.7" fill="#484848" opacity="0.76"/><rect x="147.7" y="333.1" width="3.6" height="27.9" fill="#484848" opacity="0.76"/><rect x="151.2" y="333.1" width="3.6" height="19.7" fill="#484848" opacity="0.60"/><rect x="154.6" y="335.0" width="3.6" height="7.0" fill="#484848" opacity="0.32"/></g><g filter="url(#bl2)"><ellipse cx="139.6" cy="348.9" rx="1.3" ry="7.7" fill="url(#sg)" opacity="0.75"/><ellipse cx="142.7" cy="348.8" rx="1.3" ry="12.2" fill="url(#sg)" opacity="0.90"/><ellipse cx="146.2" cy="346.9" rx="1.3" ry="14.1" fill="url(#sg)" opacity="0.95"/><ellipse cx="149.6" cy="346.3" rx="1.3" ry="14.7" fill="url(#sg)" opacity="0.95"/><ellipse cx="153.1" cy="342.2" rx="1.3" ry="10.6" fill="url(#sg)" opacity="0.75"/><ellipse cx="156.5" cy="337.8" rx="1.3" ry="4.2" fill="url(#sg)" opacity="0.40"/></g>
<path d="M154.9 345.1h.7v.7h-.7zM143.5 334.4h.7v.7h-.7zM149.0 347.7h.7v.7h-.7zM157.7 335.9h.7v.7h-.7zM153.1 338.1h.7v.7h-.7zM155.3 339.8h.7v.7h-.7zM146.0 347.3h.7v.7h-.7zM149.7 353.6h.7v.7h-.7zM151.7 342.2h.7v.7h-.7zM136.2 341.4h.7v.7h-.7zM147.0 345.4h.7v.7h-.7zM159.5 331.9h.7v.7h-.7zM159.9 334.8h.7v.7h-.7zM160.1 336.9h.7v.7h-.7zM139.7 350.6h.7v.7h-.7zM138.0 335.3h.7v.7h-.7zM143.2 353.4h.7v.7h-.7zM142.6 338.1h.7v.7h-.7zM148.7 354.6h.7v.7h-.7zM160.4 339.8h.7v.7h-.7zM144.6 354.6h.7v.7h-.7zM143.5 343.1h.7v.7h-.7zM152.5 332.9h.7v.7h-.7zM157.1 352.0h.7v.7h-.7zM150.0 345.5h.7v.7h-.7zM147.9 342.0h.7v.7h-.7zM143.2 359.3h.7v.7h-.7zM157.7 334.9h.7v.7h-.7zM151.5 333.2h.7v.7h-.7zM156.5 330.7h.7v.7h-.7zM148.6 346.5h.7v.7h-.7zM156.0 340.8h.7v.7h-.7zM139.6 354.1h.7v.7h-.7zM159.2 339.9h.7v.7h-.7zM144.7 335.2h.7v.7h-.7zM147.7 353.9h.7v.7h-.7zM150.0 359.7h.7v.7h-.7zM149.2 355.6h.7v.7h-.7zM144.1 357.1h.7v.7h-.7zM161.8 340.9h.7v.7h-.7zM157.1 333.1h.7v.7h-.7zM153.1 344.1h.7v.7h-.7zM144.9 333.7h.7v.7h-.7zM142.3 350.8h.7v.7h-.7zM139.8 345.4h.7v.7h-.7zM139.6 348.3h.7v.7h-.7zM153.6 343.3h.7v.7h-.7zM145.6 344.3h.7v.7h-.7zM149.8 354.8h.7v.7h-.7zM156.8 333.1h.7v.7h-.7zM140.7 350.8h.7v.7h-.7zM146.7 342.9h.7v.7h-.7zM146.9 355.6h.7v.7h-.7zM146.0 348.8h.7v.7h-.7zM148.2 346.6h.7v.7h-.7zM144.5 339.0h.7v.7h-.7zM142.2 346.3h.7v.7h-.7zM143.4 338.8h.7v.7h-.7zM142.4 355.6h.7v.7h-.7zM142.9 345.5h.7v.7h-.7zM151.1 344.5h.7v.7h-.7zM151.5 333.7h.7v.7h-.7zM149.0 360.8h.7v.7h-.7zM157.7 339.7h.7v.7h-.7zM154.4 336.1h.7v.7h-.7zM149.1 332.1h.7v.7h-.7zM155.0 332.6h.7v.7h-.7zM143.2 351.6h.7v.7h-.7zM137.7 351.3h.7v.7h-.7zM149.3 352.3h.7v.7h-.7zM144.0 351.5h.7v.7h-.7zM150.6 352.1h.7v.7h-.7zM142.6 337.4h.7v.7h-.7zM148.7 330.0h.7v.7h-.7zM149.7 336.9h.7v.7h-.7zM140.3 354.3h.7v.7h-.7zM147.0 349.0h.7v.7h-.7zM151.6 358.1h.7v.7h-.7zM162.0 340.3h.7v.7h-.7zM150.2 340.5h.7v.7h-.7zM151.7 339.7h.7v.7h-.7zM152.4 334.0h.7v.7h-.7zM146.7 348.5h.7v.7h-.7zM151.0 350.7h.7v.7h-.7zM143.7 351.0h.7v.7h-.7zM142.9 343.7h.7v.7h-.7zM142.5 338.3h.7v.7h-.7zM156.0 338.2h.7v.7h-.7zM157.1 340.5h.7v.7h-.7zM146.5 336.8h.7v.7h-.7z" fill="#555" opacity="0.3"/>
<rect x="159.70" y="328.20" width="7.70" height="14.60" fill="none" stroke="#000" stroke-width="1.4"/>
<text x="151.00" y="317.61" font-size="7.3" font-weight="bold" text-anchor="middle" fill="#111" textLength="42.0" lengthAdjust="spacingAndGlyphs">BMS-214662</text>
<text x="151.00" y="326.11" font-size="7.3" font-weight="bold" text-anchor="middle" fill="#111" textLength="13.4" lengthAdjust="spacingAndGlyphs">+ IM</text>
<text x="177.30" y="360.40" font-size="6.6" font-weight="bold" text-anchor="end" fill="#111" textLength="20.8" lengthAdjust="spacingAndGlyphs">0.053%</text>
<rect x="204.40" y="308.70" width="58.80" height="53.10" fill="none" stroke="#cfcfcf" stroke-width="0.8"/>
<path d="M201.2 307.5l1.6 1.2l-0.6 0.8" stroke="#aaa" stroke-width="0.7" fill="none"/>
<path d="M201.2 320.8l1.6 1.2l-0.6 0.8" stroke="#aaa" stroke-width="0.7" fill="none"/>
<path d="M201.2 334.1l1.6 1.2l-0.6 0.8" stroke="#aaa" stroke-width="0.7" fill="none"/>
<path d="M201.2 347.3l1.6 1.2l-0.6 0.8" stroke="#aaa" stroke-width="0.7" fill="none"/>
<path d="M201.2 360.6l1.6 1.2l-0.6 0.8" stroke="#aaa" stroke-width="0.7" fill="none"/>
<path d="M202.4 363.0q1 1.2 2 0.2q1 -1 2 0" stroke="#bbb" stroke-width="0.7" fill="none"/>
<path d="M217.1 363.0q1 1.2 2 0.2q1 -1 2 0" stroke="#bbb" stroke-width="0.7" fill="none"/>
<path d="M231.8 363.0q1 1.2 2 0.2q1 -1 2 0" stroke="#bbb" stroke-width="0.7" fill="none"/>
<path d="M246.5 363.0q1 1.2 2 0.2q1 -1 2 0" stroke="#bbb" stroke-width="0.7" fill="none"/>
<path d="M261.2 363.0q1 1.2 2 0.2q1 -1 2 0" stroke="#bbb" stroke-width="0.7" fill="none"/>
<g filter="url(#bl)"><rect x="221.7" y="344.3" width="3.6" height="10.7" fill="#484848" opacity="0.60"/><rect x="224.8" y="337.7" width="3.6" height="21.3" fill="#484848" opacity="0.72"/><rect x="228.3" y="334.7" width="3.6" height="26.3" fill="#484848" opacity="0.76"/><rect x="231.7" y="333.1" width="3.6" height="27.9" fill="#484848" opacity="0.76"/><rect x="235.2" y="333.1" width="3.6" height="19.7" fill="#484848" opacity="0.60"/><rect x="238.3" y="335.8" width="3.6" height="3.9" fill="#484848" opacity="0.32"/></g><g filter="url(#bl2)"><ellipse cx="223.6" cy="348.9" rx="1.3" ry="6.1" fill="url(#sg)" opacity="0.75"/><ellipse cx="226.7" cy="347.6" rx="1.3" ry="11.4" fill="url(#sg)" opacity="0.90"/><ellipse cx="230.2" cy="347.1" rx="1.3" ry="13.9" fill="url(#sg)" opacity="0.95"/><ellipse cx="233.6" cy="346.3" rx="1.3" ry="14.7" fill="url(#sg)" opacity="0.95"/><ellipse cx="237.1" cy="342.2" rx="1.3" ry="10.6" fill="url(#sg)" opacity="0.75"/><ellipse cx="240.2" cy="337.0" rx="1.3" ry="2.7" fill="url(#sg)" opacity="0.40"/></g>
<path d="M237.7 349.7h.7v.7h-.7zM239.7 339.3h.7v.7h-.7zM223.6 341.3h.7v.7h-.7zM241.7 332.9h.7v.7h-.7zM238.5 333.3h.7v.7h-.7zM238.3 333.8h.7v.7h-.7zM229.3 341.7h.7v.7h-.7zM231.7 332.6h.7v.7h-.7zM233.4 349.1h.7v.7h-.7zM231.6 356.3h.7v.7h-.7zM237.0 330.3h.7v.7h-.7zM233.2 347.5h.7v.7h-.7zM229.5 348.1h.7v.7h-.7zM240.3 338.7h.7v.7h-.7zM222.0 347.0h.7v.7h-.7zM236.3 334.3h.7v.7h-.7zM226.2 347.8h.7v.7h-.7zM226.8 358.2h.7v.7h-.7zM234.7 335.6h.7v.7h-.7zM230.1 341.2h.7v.7h-.7zM228.2 338.3h.7v.7h-.7zM239.6 338.0h.7v.7h-.7zM234.4 354.3h.7v.7h-.7zM236.9 334.7h.7v.7h-.7zM221.8 353.4h.7v.7h-.7zM224.9 346.8h.7v.7h-.7zM241.7 334.2h.7v.7h-.7zM237.3 341.2h.7v.7h-.7zM236.7 359.2h.7v.7h-.7zM226.4 347.4h.7v.7h-.7zM240.3 334.9h.7v.7h-.7zM227.0 346.7h.7v.7h-.7zM231.7 334.9h.7v.7h-.7zM230.5 351.2h.7v.7h-.7zM229.2 345.0h.7v.7h-.7zM239.7 334.1h.7v.7h-.7zM226.3 354.7h.7v.7h-.7zM240.8 333.2h.7v.7h-.7zM230.2 349.2h.7v.7h-.7zM229.6 336.0h.7v.7h-.7zM231.8 359.7h.7v.7h-.7zM223.1 343.1h.7v.7h-.7zM241.9 339.6h.7v.7h-.7zM231.5 353.1h.7v.7h-.7zM233.4 358.2h.7v.7h-.7zM231.2 337.4h.7v.7h-.7zM233.3 356.4h.7v.7h-.7zM233.7 351.4h.7v.7h-.7zM238.9 330.1h.7v.7h-.7zM230.0 349.2h.7v.7h-.7zM235.2 356.4h.7v.7h-.7zM240.3 336.5h.7v.7h-.7zM237.6 337.2h.7v.7h-.7zM236.8 338.8h.7v.7h-.7zM238.9 337.3h.7v.7h-.7zM236.1 333.2h.7v.7h-.7zM232.4 332.7h.7v.7h-.7zM236.5 337.2h.7v.7h-.7zM232.9 337.5h.7v.7h-.7zM230.6 344.8h.7v.7h-.7zM222.0 350.4h.7v.7h-.7zM225.1 356.4h.7v.7h-.7zM230.6 345.8h.7v.7h-.7zM221.5 341.3h.7v.7h-.7zM237.8 351.7h.7v.7h-.7zM230.1 347.1h.7v.7h-.7zM225.0 343.7h.7v.7h-.7zM231.6 345.7h.7v.7h-.7zM240.8 334.8h.7v.7h-.7zM238.2 339.3h.7v.7h-.7zM228.1 346.9h.7v.7h-.7zM223.5 351.2h.7v.7h-.7zM236.6 336.0h.7v.7h-.7zM234.2 331.5h.7v.7h-.7zM221.6 350.7h.7v.7h-.7zM231.3 348.5h.7v.7h-.7zM224.2 354.1h.7v.7h-.7zM240.7 352.1h.7v.7h-.7zM232.3 358.8h.7v.7h-.7zM223.9 352.3h.7v.7h-.7zM241.3 337.6h.7v.7h-.7zM229.7 343.0h.7v.7h-.7zM242.1 335.4h.7v.7h-.7zM226.8 353.8h.7v.7h-.7zM243.1 334.9h.7v.7h-.7zM229.6 340.8h.7v.7h-.7zM231.2 350.9h.7v.7h-.7zM227.8 329.7h.7v.7h-.7zM240.8 337.1h.7v.7h-.7zM228.2 345.5h.7v.7h-.7z" fill="#555" opacity="0.3"/>
<rect x="243.50" y="328.50" width="7.30" height="14.30" fill="none" stroke="#000" stroke-width="1.4"/>
<text x="233.85" y="316.81" font-size="7.3" font-weight="bold" text-anchor="middle" fill="#111" textLength="47.7" lengthAdjust="spacingAndGlyphs">BMS-214662 +</text>
<text x="234.10" y="325.41" font-size="7.3" font-weight="bold" text-anchor="middle" fill="#111" textLength="31.8" lengthAdjust="spacingAndGlyphs">Dasatinib</text>
<text x="262.70" y="360.40" font-size="6.6" font-weight="bold" text-anchor="end" fill="#111" textLength="20.8" lengthAdjust="spacingAndGlyphs">0.047%</text>
<text transform="translate(309.4,286.0) rotate(-90)" font-size="10" font-weight="bold" text-anchor="middle" fill="#111" textLength="34.6" lengthAdjust="spacingAndGlyphs">Counts</text>
<text transform="translate(316.6,244.0) rotate(-90)" font-size="4.1" text-anchor="middle" fill="#777">1000</text>
<text transform="translate(316.6,262.5) rotate(-90)" font-size="4.1" text-anchor="middle" fill="#777">800</text>
<text transform="translate(316.6,280.3) rotate(-90)" font-size="4.1" text-anchor="middle" fill="#777">600</text>
<text transform="translate(316.6,297.5) rotate(-90)" font-size="4.1" text-anchor="middle" fill="#777">400</text>
<text transform="translate(316.6,314.8) rotate(-90)" font-size="4.1" text-anchor="middle" fill="#777">200</text>
<text transform="translate(316.6,332.1) rotate(-90)" font-size="4.1" text-anchor="middle" fill="#777">0</text>
<line x1="317.80" y1="332.30" x2="319.00" y2="332.30" stroke="#777" stroke-width="0.6"/>
<line x1="317.80" y1="328.00" x2="319.00" y2="328.00" stroke="#777" stroke-width="0.6"/>
<line x1="317.80" y1="323.70" x2="319.00" y2="323.70" stroke="#777" stroke-width="0.6"/>
<line x1="317.80" y1="319.40" x2="319.00" y2="319.40" stroke="#777" stroke-width="0.6"/>
<line x1="317.80" y1="315.10" x2="319.00" y2="315.10" stroke="#777" stroke-width="0.6"/>
<line x1="317.80" y1="310.80" x2="319.00" y2="310.80" stroke="#777" stroke-width="0.6"/>
<line x1="317.80" y1="306.50" x2="319.00" y2="306.50" stroke="#777" stroke-width="0.6"/>
<line x1="317.80" y1="302.20" x2="319.00" y2="302.20" stroke="#777" stroke-width="0.6"/>
<line x1="317.80" y1="297.90" x2="319.00" y2="297.90" stroke="#777" stroke-width="0.6"/>
<line x1="317.80" y1="293.60" x2="319.00" y2="293.60" stroke="#777" stroke-width="0.6"/>
<line x1="317.80" y1="289.30" x2="319.00" y2="289.30" stroke="#777" stroke-width="0.6"/>
<line x1="317.80" y1="284.99" x2="319.00" y2="284.99" stroke="#777" stroke-width="0.6"/>
<line x1="317.80" y1="280.69" x2="319.00" y2="280.69" stroke="#777" stroke-width="0.6"/>
<line x1="317.80" y1="276.39" x2="319.00" y2="276.39" stroke="#777" stroke-width="0.6"/>
<line x1="317.80" y1="272.09" x2="319.00" y2="272.09" stroke="#777" stroke-width="0.6"/>
<line x1="317.80" y1="267.79" x2="319.00" y2="267.79" stroke="#777" stroke-width="0.6"/>
<line x1="317.80" y1="263.49" x2="319.00" y2="263.49" stroke="#777" stroke-width="0.6"/>
<line x1="317.80" y1="259.19" x2="319.00" y2="259.19" stroke="#777" stroke-width="0.6"/>
<line x1="317.80" y1="254.89" x2="319.00" y2="254.89" stroke="#777" stroke-width="0.6"/>
<line x1="317.80" y1="250.59" x2="319.00" y2="250.59" stroke="#777" stroke-width="0.6"/>
<line x1="317.80" y1="246.29" x2="319.00" y2="246.29" stroke="#777" stroke-width="0.6"/>
<text x="316.4" y="339.6" font-size="4.6" fill="#666">10<tspan dy="-1.8" font-size="3.2">0</tspan></text>
<line x1="319.00" y1="332.30" x2="319.00" y2="333.80" stroke="#777" stroke-width="0.6"/>
<text x="360.5" y="339.6" font-size="4.6" fill="#666">10<tspan dy="-1.8" font-size="3.2">1</tspan></text>
<line x1="363.12" y1="332.30" x2="363.12" y2="333.80" stroke="#777" stroke-width="0.6"/>
<text x="404.6" y="339.6" font-size="4.6" fill="#666">10<tspan dy="-1.8" font-size="3.2">2</tspan></text>
<line x1="407.25" y1="332.30" x2="407.25" y2="333.80" stroke="#777" stroke-width="0.6"/>
<text x="448.8" y="339.6" font-size="4.6" fill="#666">10<tspan dy="-1.8" font-size="3.2">3</tspan></text>
<line x1="451.38" y1="332.30" x2="451.38" y2="333.80" stroke="#777" stroke-width="0.6"/>
<text x="492.9" y="339.6" font-size="4.6" fill="#666">10<tspan dy="-1.8" font-size="3.2">4</tspan></text>
<line x1="495.50" y1="332.30" x2="495.50" y2="333.80" stroke="#777" stroke-width="0.6"/>
<line x1="332.28" y1="332.30" x2="332.28" y2="333.10" stroke="#999" stroke-width="0.5"/>
<line x1="340.05" y1="332.30" x2="340.05" y2="333.10" stroke="#999" stroke-width="0.5"/>
<line x1="345.57" y1="332.30" x2="345.57" y2="333.10" stroke="#999" stroke-width="0.5"/>
<line x1="349.84" y1="332.30" x2="349.84" y2="333.10" stroke="#999" stroke-width="0.5"/>
<line x1="353.34" y1="332.30" x2="353.34" y2="333.10" stroke="#999" stroke-width="0.5"/>
<line x1="356.29" y1="332.30" x2="356.29" y2="333.10" stroke="#999" stroke-width="0.5"/>
<line x1="358.85" y1="332.30" x2="358.85" y2="333.10" stroke="#999" stroke-width="0.5"/>
<line x1="361.11" y1="332.30" x2="361.11" y2="333.10" stroke="#999" stroke-width="0.5"/>
<line x1="376.41" y1="332.30" x2="376.41" y2="333.10" stroke="#999" stroke-width="0.5"/>
<line x1="384.18" y1="332.30" x2="384.18" y2="333.10" stroke="#999" stroke-width="0.5"/>
<line x1="389.69" y1="332.30" x2="389.69" y2="333.10" stroke="#999" stroke-width="0.5"/>
<line x1="393.97" y1="332.30" x2="393.97" y2="333.10" stroke="#999" stroke-width="0.5"/>
<line x1="397.46" y1="332.30" x2="397.46" y2="333.10" stroke="#999" stroke-width="0.5"/>
<line x1="400.41" y1="332.30" x2="400.41" y2="333.10" stroke="#999" stroke-width="0.5"/>
<line x1="402.97" y1="332.30" x2="402.97" y2="333.10" stroke="#999" stroke-width="0.5"/>
<line x1="405.23" y1="332.30" x2="405.23" y2="333.10" stroke="#999" stroke-width="0.5"/>
<line x1="420.53" y1="332.30" x2="420.53" y2="333.10" stroke="#999" stroke-width="0.5"/>
<line x1="428.30" y1="332.30" x2="428.30" y2="333.10" stroke="#999" stroke-width="0.5"/>
<line x1="433.82" y1="332.30" x2="433.82" y2="333.10" stroke="#999" stroke-width="0.5"/>
<line x1="438.09" y1="332.30" x2="438.09" y2="333.10" stroke="#999" stroke-width="0.5"/>
<line x1="441.59" y1="332.30" x2="441.59" y2="333.10" stroke="#999" stroke-width="0.5"/>
<line x1="444.54" y1="332.30" x2="444.54" y2="333.10" stroke="#999" stroke-width="0.5"/>
<line x1="447.10" y1="332.30" x2="447.10" y2="333.10" stroke="#999" stroke-width="0.5"/>
<line x1="449.36" y1="332.30" x2="449.36" y2="333.10" stroke="#999" stroke-width="0.5"/>
<line x1="464.66" y1="332.30" x2="464.66" y2="333.10" stroke="#999" stroke-width="0.5"/>
<line x1="472.43" y1="332.30" x2="472.43" y2="333.10" stroke="#999" stroke-width="0.5"/>
<line x1="477.94" y1="332.30" x2="477.94" y2="333.10" stroke="#999" stroke-width="0.5"/>
<line x1="482.22" y1="332.30" x2="482.22" y2="333.10" stroke="#999" stroke-width="0.5"/>
<line x1="485.71" y1="332.30" x2="485.71" y2="333.10" stroke="#999" stroke-width="0.5"/>
<line x1="488.66" y1="332.30" x2="488.66" y2="333.10" stroke="#999" stroke-width="0.5"/>
<line x1="491.22" y1="332.30" x2="491.22" y2="333.10" stroke="#999" stroke-width="0.5"/>
<line x1="493.48" y1="332.30" x2="493.48" y2="333.10" stroke="#999" stroke-width="0.5"/>
<clipPath id="dclip"><rect x="319.0" y="240.7" width="176.5" height="92.60000000000002"/></clipPath>
<g clip-path="url(#dclip)">
<path d="M362.0 331.6 L366.0 331.0 L370.6 320.0 L374.4 302.0 L376.0 296.0 L377.5 299.5 L379.0 297.3 L382.8 283.6 L385.0 260.8 L387.4 241.0 L389.6 260.8 L391.2 277.5 L392.7 280.6 L395.0 263.8 L396.8 253.0 L398.0 262.0 L399.5 288.0 L401.8 311.0 L404.0 318.5 L406.0 318.0 L407.6 317.0 L409.5 322.0 L411.4 326.1 L414.0 329.0 L418.0 331.6 Z" fill="#6e6e6e" stroke="#333" stroke-width="0.7"/>
<path d="M355.4 331.9 L359.4 331.8 L365.4 330.5 L369.4 325.5 L372.4 315.5 L375.4 305.5 L377.4 308.5 L379.4 311.5 L381.4 300.5 L383.4 285.5 L385.4 276.5 L387.5 273.5 L388.9 285.5 L390.6 302.3 L391.9 295.5 L393.4 270.5 L394.9 255.5 L395.9 249.1 L397.4 256.5 L398.9 272.5 L401.2 284.1 L403.2 268.9 L404.9 252.5 L407.0 241.5 L409.3 253.7 L411.6 281.1 L413.8 302.3 L416.1 313.7 L417.9 308.5 L419.9 303.1 L423.0 313.0 L425.4 320.5 L427.5 326.6 L431.3 321.3 L433.4 324.5 L435.9 328.2 L442.0 329.7 L448.0 331.5 L459.4 331.9" fill="none" stroke="#6b2fc7" stroke-width="1.6" stroke-linejoin="round"/>
<path d="M362.0 331.5 L366.0 330.5 L372.0 325.0 L378.0 320.0 L382.0 310.0 L385.0 296.0 L386.6 289.7 L389.0 283.0 L390.5 279.0 L392.7 277.5 L394.5 258.0 L396.2 241.0 L398.0 252.0 L399.5 268.4 L401.8 298.8 L403.3 309.4 L405.0 305.0 L406.8 302.6 L408.0 304.0 L410.6 311.0 L412.5 318.0 L415.2 326.1 L419.8 326.9 L424.3 329.2 L436.5 330.7 L450.0 331.4" fill="none" stroke="#3fdc3f" stroke-width="1.4" stroke-linejoin="round"/>
<path d="M356.0 331.4 L360.0 331.3 L366.0 330.0 L370.0 325.0 L373.0 315.0 L376.0 305.0 L378.0 308.0 L380.0 311.0 L382.0 300.0 L384.0 285.0 L386.0 276.0 L388.1 273.0 L389.5 285.0 L391.2 301.8 L392.5 295.0 L394.0 270.0 L395.5 255.0 L396.5 248.6 L398.0 256.0 L399.5 272.0 L401.8 283.6 L403.8 268.4 L405.5 252.0 L407.6 241.0 L409.9 253.2 L412.2 280.6 L414.4 301.8 L416.7 313.2 L418.5 308.0 L420.5 302.6 L423.6 312.5 L426.0 320.0 L428.1 326.1 L431.9 320.8 L434.0 324.0 L436.5 327.7 L442.6 329.2 L448.6 331.0 L460.0 331.4" fill="none" stroke="#3c6fbf" stroke-width="1.3" stroke-linejoin="round"/>
</g>
<rect x="319.00" y="240.70" width="176.50" height="91.60" fill="none" stroke="#555" stroke-width="0.9"/>
<line x1="319.00" y1="331.90" x2="495.50" y2="331.90" stroke="#4f7f86" stroke-width="1.0"/>
<text x="406.60" y="350.58" font-size="10" font-weight="bold" text-anchor="middle" fill="#111" textLength="27.0" lengthAdjust="spacingAndGlyphs">CFSE</text>
<rect x="319.20" y="357.80" width="5.40" height="5.20" fill="#6e6e6e" stroke="#222" stroke-width="0.7"/>
<text x="327.00" y="362.80" font-size="7.0" font-weight="bold" text-anchor="start" fill="#111" textLength="53.6" lengthAdjust="spacingAndGlyphs">No drug control</text>
<line x1="394.60" y1="359.60" x2="417.30" y2="359.60" stroke="#8be08b" stroke-width="1.6"/>
<text x="420.00" y="362.10" font-size="7.0" font-weight="bold" text-anchor="start" fill="#111" textLength="41.7" lengthAdjust="spacingAndGlyphs">BMS-214662</text>
<line x1="319.00" y1="374.60" x2="341.50" y2="374.60" stroke="#7a2ad0" stroke-width="1.6"/>
<text x="344.00" y="377.10" font-size="7.0" font-weight="bold" text-anchor="start" fill="#111" textLength="7.7" lengthAdjust="spacingAndGlyphs">IM</text>
<line x1="394.60" y1="374.80" x2="417.30" y2="374.80" stroke="#3795c8" stroke-width="1.6"/>
<text x="420.00" y="377.30" font-size="7.0" font-weight="bold" text-anchor="start" fill="#111" textLength="32.1" lengthAdjust="spacingAndGlyphs">Dasatinib</text>
<line x1="120.30" y1="417.40" x2="120.30" y2="597.50" stroke="#8a8a8a" stroke-width="1"/>
<line x1="120.30" y1="597.50" x2="375.50" y2="597.50" stroke="#8a8a8a" stroke-width="1"/>
<line x1="120.70" y1="597.50" x2="120.70" y2="599.30" stroke="#8a8a8a" stroke-width="0.8"/>
<line x1="152.60" y1="597.50" x2="152.60" y2="599.30" stroke="#8a8a8a" stroke-width="0.8"/>
<line x1="184.50" y1="597.50" x2="184.50" y2="599.30" stroke="#8a8a8a" stroke-width="0.8"/>
<line x1="216.40" y1="597.50" x2="216.40" y2="599.30" stroke="#8a8a8a" stroke-width="0.8"/>
<line x1="248.30" y1="597.50" x2="248.30" y2="599.30" stroke="#8a8a8a" stroke-width="0.8"/>
<line x1="280.20" y1="597.50" x2="280.20" y2="599.30" stroke="#8a8a8a" stroke-width="0.8"/>
<line x1="312.10" y1="597.50" x2="312.10" y2="599.30" stroke="#8a8a8a" stroke-width="0.8"/>
<line x1="344.00" y1="597.50" x2="344.00" y2="599.30" stroke="#8a8a8a" stroke-width="0.8"/>
<line x1="375.90" y1="597.50" x2="375.90" y2="599.30" stroke="#8a8a8a" stroke-width="0.8"/>
<text x="114.20" y="599.70" font-size="8.2" font-weight="bold" text-anchor="end" fill="#111" textLength="4.4" lengthAdjust="spacingAndGlyphs">0</text>
<text x="114.20" y="569.78" font-size="8.2" font-weight="bold" text-anchor="end" fill="#111" textLength="8.8" lengthAdjust="spacingAndGlyphs">10</text>
<text x="114.20" y="539.87" font-size="8.2" font-weight="bold" text-anchor="end" fill="#111" textLength="8.8" lengthAdjust="spacingAndGlyphs">20</text>
<text x="114.20" y="509.95" font-size="8.2" font-weight="bold" text-anchor="end" fill="#111" textLength="8.8" lengthAdjust="spacingAndGlyphs">30</text>
<text x="114.20" y="480.03" font-size="8.2" font-weight="bold" text-anchor="end" fill="#111" textLength="8.8" lengthAdjust="spacingAndGlyphs">40</text>
<text x="114.20" y="450.12" font-size="8.2" font-weight="bold" text-anchor="end" fill="#111" textLength="8.8" lengthAdjust="spacingAndGlyphs">50</text>
<text x="114.20" y="420.20" font-size="8.2" font-weight="bold" text-anchor="end" fill="#111" textLength="8.8" lengthAdjust="spacingAndGlyphs">60</text>
<text transform="translate(94.3,507.5) rotate(-90)" font-size="9.2" font-weight="bold" text-anchor="middle" fill="#111" textLength="83.7" lengthAdjust="spacingAndGlyphs">Cell frequency (%)</text>
<rect x="123.60" y="597.20" width="4.35" height="0.30" fill="#9999ff" stroke="#333" stroke-width="0.35"/>
<rect x="127.95" y="597.05" width="4.35" height="0.45" fill="#993366" stroke="#333" stroke-width="0.35"/>
<rect x="132.30" y="597.35" width="4.35" height="0.15" fill="#ffffcc" stroke="#333" stroke-width="0.35"/>
<rect x="136.65" y="597.35" width="4.35" height="0.15" fill="#ccffff" stroke="#333" stroke-width="0.35"/>
<rect x="141.00" y="596.90" width="4.35" height="0.60" fill="#660066" stroke="#333" stroke-width="0.35"/>
<rect x="145.35" y="597.20" width="4.35" height="0.30" fill="#ff8080" stroke="#333" stroke-width="0.35"/>
<rect x="155.50" y="597.20" width="4.35" height="0.30" fill="#9999ff" stroke="#333" stroke-width="0.35"/>
<rect x="159.85" y="596.90" width="4.35" height="0.60" fill="#993366" stroke="#333" stroke-width="0.35"/>
<rect x="164.20" y="596.90" width="4.35" height="0.60" fill="#ffffcc" stroke="#333" stroke-width="0.35"/>
<rect x="168.55" y="596.60" width="4.35" height="0.90" fill="#ccffff" stroke="#333" stroke-width="0.35"/>
<rect x="172.90" y="596.30" width="4.35" height="1.20" fill="#660066" stroke="#333" stroke-width="0.35"/>
<rect x="177.25" y="596.60" width="4.35" height="0.90" fill="#ff8080" stroke="#333" stroke-width="0.35"/>
<rect x="187.40" y="597.20" width="4.35" height="0.30" fill="#9999ff" stroke="#333" stroke-width="0.35"/>
<rect x="191.75" y="596.90" width="4.35" height="0.60" fill="#993366" stroke="#333" stroke-width="0.35"/>
<rect x="196.10" y="592.12" width="4.35" height="5.38" fill="#ffffcc" stroke="#333" stroke-width="0.35"/>
<rect x="200.45" y="592.12" width="4.35" height="5.38" fill="#ccffff" stroke="#333" stroke-width="0.35"/>
<rect x="204.80" y="592.12" width="4.35" height="5.38" fill="#660066" stroke="#333" stroke-width="0.35"/>
<rect x="209.15" y="592.12" width="4.35" height="5.38" fill="#ff8080" stroke="#333" stroke-width="0.35"/>
<rect x="219.30" y="593.61" width="4.35" height="3.89" fill="#9999ff" stroke="#333" stroke-width="0.35"/>
<rect x="223.65" y="590.92" width="4.35" height="6.58" fill="#993366" stroke="#333" stroke-width="0.35"/>
<rect x="228.00" y="576.26" width="4.35" height="21.24" fill="#ffffcc" stroke="#333" stroke-width="0.35"/>
<rect x="232.35" y="576.26" width="4.35" height="21.24" fill="#ccffff" stroke="#333" stroke-width="0.35"/>
<rect x="236.70" y="569.68" width="4.35" height="27.82" fill="#660066" stroke="#333" stroke-width="0.35"/>
<rect x="241.05" y="569.68" width="4.35" height="27.82" fill="#ff8080" stroke="#333" stroke-width="0.35"/>
<rect x="251.20" y="580.45" width="4.35" height="17.05" fill="#9999ff" stroke="#333" stroke-width="0.35"/>
<rect x="255.55" y="571.17" width="4.35" height="26.33" fill="#993366" stroke="#333" stroke-width="0.35"/>
<rect x="259.90" y="533.48" width="4.35" height="64.02" fill="#ffffcc" stroke="#333" stroke-width="0.35"/>
<rect x="264.25" y="537.37" width="4.35" height="60.13" fill="#ccffff" stroke="#333" stroke-width="0.35"/>
<rect x="268.60" y="527.79" width="4.35" height="69.71" fill="#660066" stroke="#333" stroke-width="0.35"/>
<rect x="272.95" y="529.89" width="4.35" height="67.61" fill="#ff8080" stroke="#333" stroke-width="0.35"/>
<rect x="283.10" y="501.47" width="4.35" height="96.03" fill="#9999ff" stroke="#333" stroke-width="0.35"/>
<rect x="287.45" y="476.04" width="4.35" height="121.46" fill="#993366" stroke="#333" stroke-width="0.35"/>
<rect x="291.80" y="465.27" width="4.35" height="132.23" fill="#ffffcc" stroke="#333" stroke-width="0.35"/>
<rect x="296.15" y="467.06" width="4.35" height="130.44" fill="#ccffff" stroke="#333" stroke-width="0.35"/>
<rect x="300.50" y="470.06" width="4.35" height="127.45" fill="#660066" stroke="#333" stroke-width="0.35"/>
<rect x="304.85" y="474.84" width="4.35" height="122.66" fill="#ff8080" stroke="#333" stroke-width="0.35"/>
<rect x="315.00" y="436.25" width="4.35" height="161.25" fill="#9999ff" stroke="#333" stroke-width="0.35"/>
<rect x="319.35" y="458.09" width="4.35" height="139.41" fill="#993366" stroke="#333" stroke-width="0.35"/>
<rect x="323.70" y="519.12" width="4.35" height="78.38" fill="#ffffcc" stroke="#333" stroke-width="0.35"/>
<rect x="328.05" y="512.54" width="4.35" height="84.96" fill="#ccffff" stroke="#333" stroke-width="0.35"/>
<rect x="332.40" y="526.30" width="4.35" height="71.20" fill="#660066" stroke="#333" stroke-width="0.35"/>
<rect x="336.75" y="519.72" width="4.35" height="77.78" fill="#ff8080" stroke="#333" stroke-width="0.35"/>
<rect x="346.90" y="571.17" width="4.35" height="26.33" fill="#9999ff" stroke="#333" stroke-width="0.35"/>
<rect x="351.25" y="588.52" width="4.35" height="8.97" fill="#993366" stroke="#333" stroke-width="0.35"/>
<rect x="355.60" y="594.51" width="4.35" height="2.99" fill="#ffffcc" stroke="#333" stroke-width="0.35"/>
<rect x="359.95" y="595.11" width="4.35" height="2.39" fill="#ccffff" stroke="#333" stroke-width="0.35"/>
<rect x="364.30" y="596.00" width="4.35" height="1.50" fill="#660066" stroke="#333" stroke-width="0.35"/>
<rect x="368.65" y="596.00" width="4.35" height="1.50" fill="#ff8080" stroke="#333" stroke-width="0.35"/>
<text transform="translate(133.5,612.6) rotate(-44)" font-size="7.9" font-weight="bold" text-anchor="end" fill="#111">Undivided</text>
<text transform="translate(165.4,612.6) rotate(-44)" font-size="7.9" font-weight="bold" text-anchor="end" fill="#111">Division 1</text>
<text transform="translate(197.2,612.6) rotate(-44)" font-size="7.9" font-weight="bold" text-anchor="end" fill="#111">Division 2</text>
<text transform="translate(229.2,612.6) rotate(-44)" font-size="7.9" font-weight="bold" text-anchor="end" fill="#111">Division 3</text>
<text transform="translate(261.1,612.6) rotate(-44)" font-size="7.9" font-weight="bold" text-anchor="end" fill="#111">Division 4</text>
<text transform="translate(292.9,612.6) rotate(-44)" font-size="7.9" font-weight="bold" text-anchor="end" fill="#111">Division 5</text>
<text transform="translate(324.9,612.6) rotate(-44)" font-size="7.9" font-weight="bold" text-anchor="end" fill="#111">Division 6</text>
<text transform="translate(356.8,612.6) rotate(-44)" font-size="7.9" font-weight="bold" text-anchor="end" fill="#111">Division 7</text>
<line x1="316.80" y1="421.20" x2="316.80" y2="428.00" stroke="#000" stroke-width="1.6"/>
<polygon points="313.8,426.8 319.8,426.8 316.8,432.0" fill="#000"/>
<line x1="321.80" y1="442.30" x2="321.80" y2="449.50" stroke="#000" stroke-width="1.6"/>
<polygon points="318.8,448.3 324.8,448.3 321.8,453.5" fill="#000"/>
<line x1="348.50" y1="555.40" x2="348.50" y2="563.20" stroke="#000" stroke-width="1.6"/>
<polygon points="345.5,562.0 351.5,562.0 348.5,567.2" fill="#000"/>
<line x1="353.80" y1="573.00" x2="353.80" y2="580.40" stroke="#000" stroke-width="1.6"/>
<polygon points="350.8,579.2 356.8,579.2 353.8,584.4" fill="#000"/>
<polygon points="185.9,588.0 191.7,588.0 188.8,594.2" fill="#000"/>
<polygon points="190.7,588.0 196.5,588.0 193.6,594.2" fill="#000"/>
<polygon points="217.8,585.6 223.8,585.6 220.8,592.2" fill="#000"/>
<polygon points="222.8,582.8 228.8,582.8 225.8,589.2" fill="#000"/>
<polygon points="250.0,572.2 256.0,572.2 253.0,578.6" fill="#000"/>
<polygon points="253.8,562.2 259.8,562.2 256.8,568.4" fill="#000"/>
<path d="M196.0 590.0 Q196.0 583.8 199.0 583.8 L202.6 583.8 Q204.6 583.8 204.6 578.7 Q204.6 583.8 206.6 583.8 L210.2 583.8 Q213.2 583.8 213.2 590.0" fill="none" stroke="#111" stroke-width="0.95"/>
<path d="M227.7 568.0 Q227.7 562.7 230.7 562.7 L234.3 562.7 Q236.3 562.7 236.3 558.3 Q236.3 562.7 238.3 562.7 L242.0 562.7 Q245.0 562.7 245.0 568.0" fill="none" stroke="#111" stroke-width="0.95"/>
<path d="M259.2 530.0 Q259.2 524.8 262.2 524.8 L266.2 524.8 Q268.2 524.8 268.2 520.6 Q268.2 524.8 270.2 524.8 L274.3 524.8 Q277.3 524.8 277.3 530.0" fill="none" stroke="#111" stroke-width="0.95"/>
<path d="M324.0 515.2 Q324.0 510.1 327.0 510.1 L330.9 510.1 Q332.9 510.1 332.9 506.0 Q332.9 510.1 334.9 510.1 L338.8 510.1 Q341.8 510.1 341.8 515.2" fill="none" stroke="#111" stroke-width="0.95"/>
<path d="M355.8 592.9 Q355.8 587.9 358.8 587.9 L362.4 587.9 Q364.4 587.9 364.4 583.8 Q364.4 587.9 366.4 587.9 L370.0 587.9 Q373.0 587.9 373.0 592.9" fill="none" stroke="#111" stroke-width="0.95"/>
<rect x="378.10" y="469.50" width="104.40" height="69.00" fill="#fff" stroke="#d0d0d0" stroke-width="0.8"/>
<rect x="381.20" y="473.20" width="5.20" height="5.20" fill="#9999ff" stroke="#333" stroke-width="0.5"/>
<text x="389.60" y="478.80" font-size="8.0" font-weight="bold" text-anchor="start" fill="#111" textLength="58.9" lengthAdjust="spacingAndGlyphs">No drug control</text>
<rect x="381.20" y="484.84" width="5.20" height="5.20" fill="#993366" stroke="#333" stroke-width="0.5"/>
<text x="389.60" y="490.44" font-size="8.0" font-weight="bold" text-anchor="start" fill="#111" textLength="73.3" lengthAdjust="spacingAndGlyphs">BMS-214662 250nM</text>
<rect x="381.20" y="496.48" width="5.20" height="5.20" fill="#ffffcc" stroke="#333" stroke-width="0.5"/>
<text x="389.60" y="502.08" font-size="8.0" font-weight="bold" text-anchor="start" fill="#111" textLength="26.5" lengthAdjust="spacingAndGlyphs">IM 5uM</text>
<rect x="381.20" y="508.12" width="5.20" height="5.20" fill="#ccffff" stroke="#333" stroke-width="0.5"/>
<text x="389.60" y="513.72" font-size="8.0" font-weight="bold" text-anchor="start" fill="#111" textLength="62.6" lengthAdjust="spacingAndGlyphs">Dasatinib 150nM</text>
<rect x="381.20" y="519.76" width="5.20" height="5.20" fill="#660066" stroke="#333" stroke-width="0.5"/>
<text x="389.60" y="525.36" font-size="8.0" font-weight="bold" text-anchor="start" fill="#111" textLength="64.0" lengthAdjust="spacingAndGlyphs">BMS-214662 + IM</text>
<rect x="381.20" y="531.40" width="5.20" height="5.20" fill="#ff8080" stroke="#333" stroke-width="0.5"/>
<text x="389.60" y="537.00" font-size="8.0" font-weight="bold" text-anchor="start" fill="#111" textLength="90.9" lengthAdjust="spacingAndGlyphs">BMS-214662 + Dasatinib</text>
</svg></body></html>
